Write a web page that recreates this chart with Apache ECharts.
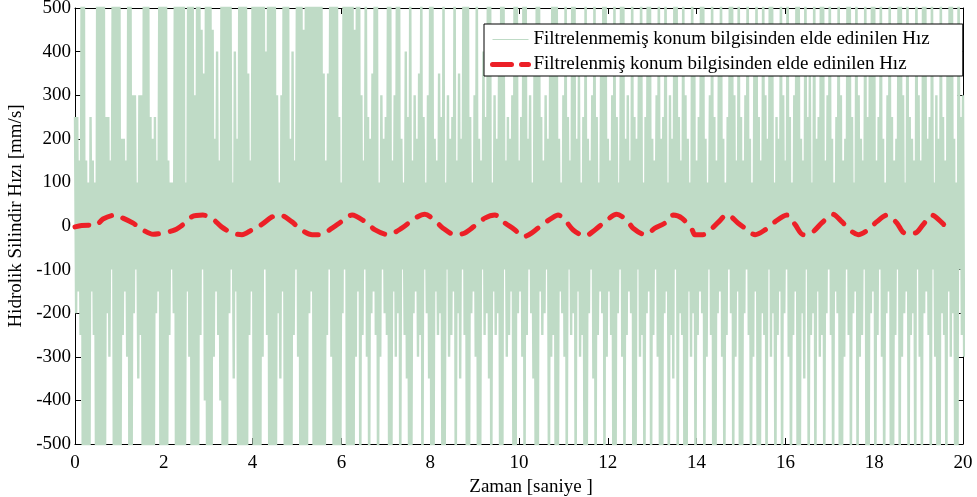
<!DOCTYPE html>
<html>
<head>
<meta charset="utf-8">
<script src="https://cdn.jsdelivr.net/npm/echarts@6/dist/echarts.min.js"></script>
<style>
  html, body { margin: 0; padding: 0; background: #fff; }
  #chart { width: 977px; height: 497px; }
</style>
</head>
<body>
<div id="chart"></div>
<script>
// Sampling step of the raw velocity envelope (s)
const hamAdim = 0.05;

// Raw (unfiltered) velocity: upper peak of each 0.05 s bin [mm/s]
const hamUst = [
  250,250,150,600,600,150,100,250,150,100,600,600,600,600,250,250,150,600,600,600,
  600,200,200,150,600,600,300,300,100,300,300,600,600,600,250,200,250,150,600,600,
  600,600,150,100,100,600,600,600,600,600,100,600,600,600,300,600,600,450,350,600,
  600,600,450,200,400,150,600,600,600,600,600,100,400,200,600,600,600,600,350,150,
  600,600,600,600,600,600,400,600,600,600,600,300,100,300,600,600,600,200,400,150,
  600,600,600,450,600,600,600,600,600,600,600,600,350,150,350,600,600,600,600,250,
  100,600,600,600,600,600,450,600,600,300,150,600,250,200,350,600,600,100,300,200,
  250,600,600,150,300,600,600,200,100,400,250,600,150,300,200,350,600,250,100,300,
  600,600,200,150,350,250,600,100,300,200,250,600,150,350,200,600,600,600,250,100,
  300,600,200,150,400,250,600,600,100,300,200,350,600,600,150,250,200,300,600,600,
  150,250,600,600,200,300,100,400,600,600,250,150,300,200,350,600,600,600,200,100,
  300,600,250,150,600,600,200,350,100,250,600,200,150,300,600,250,100,400,600,600,
  200,150,300,600,250,100,600,600,200,300,150,600,250,200,350,600,100,250,600,600,
  200,150,300,600,200,250,600,100,300,200,600,600,250,150,600,300,200,100,600,350,
  150,250,600,600,200,100,300,600,250,150,350,600,200,100,250,600,600,300,150,600,
  250,150,300,600,200,100,350,600,250,150,600,300,200,600,600,100,250,200,600,300,
  150,600,250,100,300,600,600,200,150,600,250,350,100,600,200,250,600,600,150,300,
  600,200,100,250,600,300,150,200,600,600,250,100,600,300,200,150,600,250,350,600,
  600,150,250,600,200,100,300,600,250,150,200,600,600,300,100,600,250,200,150,600,
  300,150,600,600,200,250,600,100,300,200,600,250,150,350,600,600,200,100,600,250,
  300
];

// Raw (unfiltered) velocity: lower peak of each 0.05 s bin [mm/s]
const hamAlt = [
  -200,-150,-250,-600,-600,-600,-600,-150,-250,-600,-600,-600,-600,-600,-200,-300,-100,-600,-600,-600,
  -600,-250,-150,-300,-600,-600,-200,-100,-350,-250,-600,-600,-600,-600,-600,-600,-200,-150,-600,-600,
  -600,-600,-250,-100,-200,-600,-600,-600,-600,-600,-150,-300,-600,-600,-600,-600,-250,-100,-400,-600,
  -600,-600,-300,-150,-250,-400,-600,-600,-600,-200,-100,-350,-150,-600,-600,-600,-600,-600,-250,-150,
  -600,-600,-600,-600,-300,-100,-250,-600,-600,-600,-600,-200,-350,-150,-600,-600,-600,-600,-250,-100,
  -300,-600,-600,-600,-600,-200,-150,-600,-600,-600,-600,-600,-600,-250,-100,-300,-600,-600,-600,-600,
  -200,-100,-600,-600,-600,-600,-300,-150,-600,-250,-100,-300,-600,-200,-150,-250,-600,-300,-100,-200,
  -250,-600,-600,-150,-300,-200,-600,-100,-250,-350,-600,-600,-200,-150,-300,-250,-600,-100,-200,-350,
  -600,-600,-150,-250,-200,-600,-600,-100,-300,-250,-150,-600,-200,-350,-100,-250,-600,-600,-200,-150,
  -300,-600,-600,-100,-250,-200,-350,-600,-150,-250,-200,-600,-600,-100,-300,-250,-150,-600,-600,-200,
  -150,-300,-600,-250,-100,-200,-350,-600,-600,-150,-250,-200,-100,-600,-300,-250,-600,-600,-150,-200,
  -300,-600,-100,-250,-200,-600,-150,-300,-250,-600,-600,-200,-100,-350,-600,-250,-150,-200,-600,-300,
  -150,-250,-600,-600,-200,-100,-300,-600,-250,-150,-200,-600,-600,-100,-300,-250,-600,-200,-150,-600,
  -250,-100,-300,-600,-600,-200,-150,-600,-250,-350,-100,-600,-200,-250,-600,-600,-150,-300,-200,-600,
  -250,-150,-200,-600,-300,-100,-250,-600,-600,-200,-150,-300,-600,-250,-100,-200,-600,-300,-150,-600,
  -600,-200,-100,-250,-600,-300,-150,-600,-600,-200,-250,-600,-100,-300,-200,-600,-250,-150,-600,-200,
  -100,-300,-600,-250,-150,-600,-600,-200,-350,-100,-600,-250,-200,-600,-150,-300,-250,-600,-200,-100,
  -250,-600,-150,-200,-600,-600,-300,-100,-250,-600,-200,-150,-600,-300,-250,-100,-600,-600,-200,-150,
  -600,-250,-100,-300,-600,-200,-150,-600,-600,-250,-100,-600,-300,-200,-150,-600,-250,-200,-600,-100,
  -300,-600,-200,-150,-250,-600,-100,-300,-600,-600,-200,-250,-600,-150,-300,-200,-600,-600,-100,-250,
  -300
];

// Filtered velocity: sample times [s] and values [mm/s]
const filtreZaman = [
  0.00, 0.15, 0.30, 0.45, 0.63, 0.90, 1.08, 1.30, 1.53, 1.76, 1.98, 2.25, 2.43, 2.63, 2.88,
  3.08, 3.30, 3.54, 3.76, 3.98, 4.20, 4.44, 4.62, 4.88, 5.10, 5.34, 5.52, 5.79, 6.00, 6.24,
  6.53, 6.76, 7.05, 7.36, 7.66, 7.88, 8.10, 8.29, 8.56, 8.78, 9.00, 9.23, 9.46, 9.68, 9.91,
  10.09, 10.29, 10.52, 10.74, 10.88, 11.04, 11.22, 11.49, 11.71, 11.94, 12.20, 12.43, 12.57, 12.84, 13.06,
  13.29, 13.47, 13.67, 13.90, 13.96, 14.14, 14.35, 14.53, 14.68, 14.93, 15.09, 15.32, 15.54, 15.77, 16.04,
  16.22, 16.40, 16.62, 16.82, 17.07, 17.27, 17.50, 17.64, 17.86, 18.06, 18.29, 18.51, 18.69, 18.92, 19.10,
  19.30, 19.53, 19.75
];
const filtreHiz = [
  -2, 1, 2, 0, 16, 25, 18, 7, -9, -19, -16, -9, 3, 21, 25,
  18, -2, -16, -20, -9, 3, 21, 25, 10, -9, -20, -20, -5, 10, 25,
  10, -9, -20, -5, 18, 27, 13, -5, -20, -16, 0, 18, 25, 7, -9,
  -25, -16, 3, 18, 25, 13, -9, -23, -9, 10, 27, 13, -5, -20, -5,
  7, 25, 18, -9, -20, -20, -5, 13, 27, 7, -5, -20, -9, 10, 25,
  3, -20, -13, 7, 27, 10, -13, -20, -9, 10, 25, 7, -16, -16, 3,
  25, 7, -16
];

// Axis ranges and tick spacing
const xMin = 0, xMax = 20, xAdim = 2;
const yMin = -500, yMax = 500, yAdim = 100;

const seriesAdlari = [
  'Filtrelenmemiş konum bilgisinden elde edinilen Hız',
  'Filtrelenmiş konum bilgisinden elde edinilen Hız'
];

// Raw trace: each bin contributes its upper then its lower peak
const hamVeri = [];
for (let i = 0; i < hamUst.length; i++) {
  hamVeri.push([i * hamAdim, hamUst[i]]);
  hamVeri.push([i * hamAdim + hamAdim / 2, hamAlt[i]]);
}
const filtreVeri = filtreZaman.map((t, i) => [t, filtreHiz[i]]);

const yazi = 'Liberation Serif';
const siyah = '#000';
const yesil = '#bfdbc6';
const kirmizi = '#ec2027';
const kesik = [14, 12];

function eksen(extra) {
  return Object.assign({
    type: 'value',
    axisLine: { show: true, onZero: false, lineStyle: { color: siyah, width: 1 } },
    axisTick: { show: true, inside: true, length: 6, lineStyle: { color: siyah } },
    axisLabel: { show: false },
    splitLine: { show: false }
  }, extra);
}

const chart = echarts.init(document.getElementById('chart'), null, { renderer: 'canvas' });
chart.setOption({
  animation: false,
  backgroundColor: '#fff',
  grid: { left: 75, right: 14, top: 8, bottom: 53, containLabel: false, outerBoundsMode: 'none' },
  xAxis: [
    eksen({
      min: xMin, max: xMax, interval: xAdim, position: 'bottom',
      axisLabel: { show: true, color: siyah, fontFamily: yazi, fontSize: 19, margin: 10 },
      name: 'Zaman [saniye ]', nameLocation: 'middle', nameGap: 34,
      nameTextStyle: { color: siyah, fontFamily: yazi, fontSize: 19, padding: [0, 0, 0, 24] }
    }),
    eksen({ min: xMin, max: xMax, interval: xAdim, position: 'top' })
  ],
  yAxis: [
    eksen({
      min: yMin, max: yMax, interval: yAdim, position: 'left',
      axisLabel: { show: true, color: siyah, fontFamily: yazi, fontSize: 19, margin: 4 },
      name: 'Hidrolik Silindir Hızı [mm/s]', nameLocation: 'middle', nameGap: 41,
      nameTextStyle: { color: siyah, fontFamily: yazi, fontSize: 19, padding: [0, 0, 0, 20] }
    }),
    eksen({ min: yMin, max: yMax, interval: yAdim, position: 'right' })
  ],
  legend: {
    orient: 'vertical',
    left: 484, top: 24,
    backgroundColor: '#fff',
    borderColor: siyah, borderWidth: 1, borderRadius: 0,
    padding: [6, 33, 2, 6],
    itemGap: 6, itemWidth: 36, itemHeight: 16,
    textStyle: { color: siyah, fontFamily: yazi, fontSize: 19 },
    data: [
      {
        name: seriesAdlari[0],
        itemStyle: { opacity: 0 },
        lineStyle: { color: yesil, width: 1 }
      },
      {
        name: seriesAdlari[1],
        itemStyle: { opacity: 0 },
        lineStyle: { color: kirmizi, width: 5, type: [19, 10], cap: 'round' }
      }
    ]
  },
  series: [
    {
      name: seriesAdlari[0],
      type: 'line',
      xAxisIndex: 0, yAxisIndex: 0,
      data: hamVeri,
      symbol: 'none',
      sampling: false,
      clip: true,
      lineStyle: { color: yesil, width: 2.4 },
      itemStyle: { color: yesil },
      z: 2
    },
    {
      name: seriesAdlari[1],
      type: 'line',
      xAxisIndex: 0, yAxisIndex: 0,
      data: filtreVeri,
      symbol: 'none',
      smooth: 0.3,
      clip: true,
      lineStyle: { color: kirmizi, width: 5, type: kesik, cap: 'round', join: 'round' },
      itemStyle: { color: kirmizi },
      z: 3
    }
  ]
});
</script>
</body>
</html>
